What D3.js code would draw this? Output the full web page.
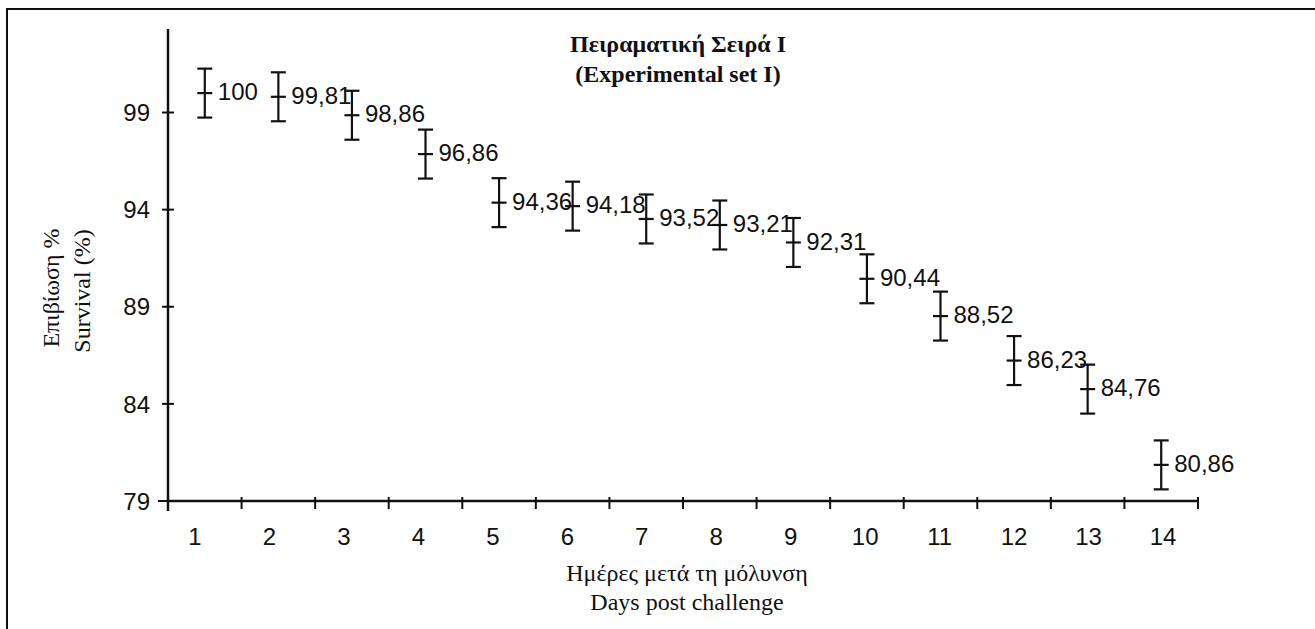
<!DOCTYPE html>
<html>
<head>
<meta charset="utf-8">
<script src="https://cdn.jsdelivr.net/npm/d3@7"></script>
<style>
  body { margin: 0; background: #fff; }
  .num { font-family: "Liberation Sans", Arial, sans-serif; font-size: 24px; fill: #111; }
  .ser { font-family: "Liberation Serif", "Times New Roman", serif; font-size: 24px; fill: #111; }
</style>
</head>
<body>
<script>
var days = [1, 2, 3, 4, 5, 6, 7, 8, 9, 10, 11, 12, 13, 14]
var survival = [100, 99.81, 98.86, 96.86, 94.36, 94.18, 93.52, 93.21, 92.31, 90.44, 88.52, 86.23, 84.76, 80.86]
var errors = [1.26, 1.26, 1.26, 1.26, 1.26, 1.26, 1.26, 1.26, 1.26, 1.26, 1.26, 1.26, 1.26, 1.26]
var labels = ["100", "99,81", "98,86", "96,86", "94,36", "94,18", "93,52", "93,21", "92,31", "90,44", "88,52", "86,23", "84,76", "80,86"]
var yTicks = [79, 84, 89, 94, 99]

var width = 1315, height = 629

var svg = d3.select("body").append("svg")
    .attr("width", width)
    .attr("height", height)

// frame (only top and left edges show in the picture)
svg.append("rect")
    .attr("x", 7).attr("y", 9)
    .attr("width", width + 20).attr("height", height + 20)
    .attr("fill", "none")
    .attr("stroke", "#111")
    .attr("stroke-width", 2)

var x = d3.scaleBand()
    .domain(days)
    .range([168, 1198])

// tick labels sit a little off the band centres in the original
var xLab = d3.scalePoint()
    .domain(days)
    .range([195, 1163])

var y = d3.scaleLinear()
    .domain([79, 103.3])
    .range([501, 29])

var cx = function(d) { return x(d) + x.bandwidth() / 2 }

// y axis
svg.append("line")
    .attr("x1", 168).attr("x2", 168)
    .attr("y1", y.range()[1]).attr("y2", y(79) + 10)
    .attr("stroke", "#111").attr("stroke-width", 2.5)

svg.selectAll(".ytick")
    .data(yTicks)
  .enter().append("line")
    .attr("x1", function(d) { return d === 79 ? 158 : 162 })
    .attr("x2", 174)
    .attr("y1", y).attr("y2", y)
    .attr("stroke", "#111").attr("stroke-width", 2)

svg.selectAll(".ylab")
    .data(yTicks)
  .enter().append("text")
    .attr("class", "num")
    .attr("x", 150)
    .attr("y", y)
    .attr("dy", "0.36em")
    .attr("text-anchor", "end")
    .text(function(d) { return d })

// x axis
svg.append("line")
    .attr("x1", 168).attr("x2", x.range()[1])
    .attr("y1", y(79)).attr("y2", y(79))
    .attr("stroke", "#111").attr("stroke-width", 2.5)

svg.selectAll(".xtick")
    .data(days.map(function(d) { return x(d) }).concat([x.range()[1]]))
  .enter().append("line")
    .attr("x1", function(d) { return d }).attr("x2", function(d) { return d })
    .attr("y1", y(79) - 4).attr("y2", y(79) + 8)
    .attr("stroke", "#111").attr("stroke-width", 2)

svg.selectAll(".xlab")
    .data(days)
  .enter().append("text")
    .attr("class", "num")
    .attr("x", xLab)
    .attr("y", 545)
    .attr("text-anchor", "middle")
    .text(function(d) { return d })

// error bars
var pts = svg.selectAll(".pt")
    .data(days)
  .enter().append("g")
    .attr("stroke", "#111")
    .attr("stroke-width", 2.2)

pts.append("line")
    .attr("x1", cx).attr("x2", cx)
    .attr("y1", function(d, i) { return y(survival[i] + errors[i]) })
    .attr("y2", function(d, i) { return y(survival[i] - errors[i]) })

;[1, 0, -1].forEach(function(k) {
    pts.append("line")
        .attr("x1", function(d) { return cx(d) - 7.5 })
        .attr("x2", function(d) { return cx(d) + 7.5 })
        .attr("y1", function(d, i) { return y(survival[i] + k * errors[i]) })
        .attr("y2", function(d, i) { return y(survival[i] + k * errors[i]) })
})

svg.selectAll(".dlab")
    .data(days)
  .enter().append("text")
    .attr("class", "num")
    .attr("x", function(d) { return cx(d) + 13 })
    .attr("y", function(d, i) { return y(survival[i]) })
    .attr("dy", "0.3em")
    .text(function(d, i) { return labels[i] })

// titles
svg.append("text")
    .attr("class", "ser")
    .attr("x", 678).attr("y", 52)
    .attr("text-anchor", "middle")
    .attr("font-weight", "bold")
    .text("Πειραματική Σειρά Ι")

svg.append("text")
    .attr("class", "ser")
    .attr("x", 678).attr("y", 82)
    .attr("text-anchor", "middle")
    .attr("font-weight", "bold")
    .text("(Experimental set I)")

svg.append("text")
    .attr("class", "ser")
    .attr("x", 687).attr("y", 581)
    .attr("text-anchor", "middle")
    .text("Ημέρες μετά τη μόλυνση")

svg.append("text")
    .attr("class", "ser")
    .attr("x", 687).attr("y", 610)
    .attr("text-anchor", "middle")
    .text("Days post challenge")

svg.append("text")
    .attr("class", "ser")
    .attr("transform", "translate(59,288) rotate(-90)")
    .attr("text-anchor", "middle")
    .text("Επιβίωση %")

svg.append("text")
    .attr("class", "ser")
    .attr("transform", "translate(90,291) rotate(-90)")
    .attr("text-anchor", "middle")
    .text("Survival (%)")
</script>
</body>
</html>
